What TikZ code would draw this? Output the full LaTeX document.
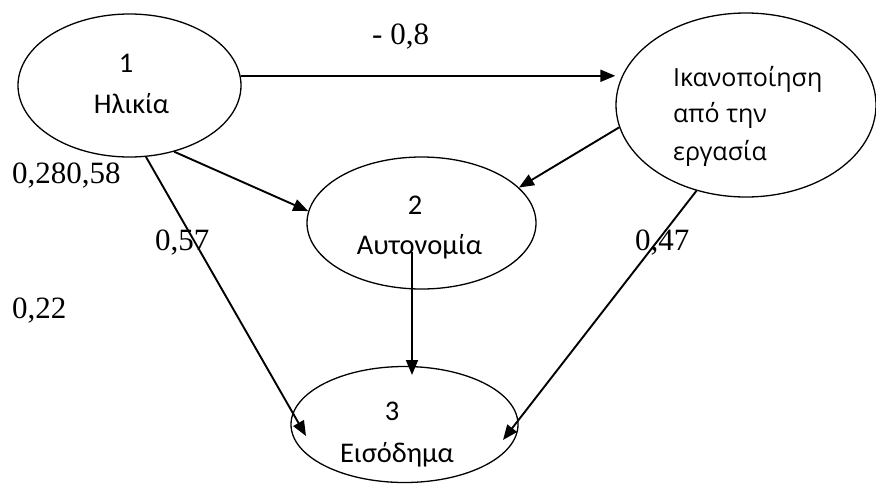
\documentclass[tikz,border=0pt]{standalone}
\usepackage{fontspec}
\setmainfont{Liberation Serif}
\newfontfamily\calfont{Carlito}
\newfontfamily\osfont{Open Sans}
\usetikzlibrary{shapes.geometric,arrows.meta}
\tikzset{
  ell/.style={draw, ellipse, inner sep=0pt, line width=1.3pt},
  arr/.style={line width=1.9pt, -{Triangle[length=15pt,width=12pt]}},
  sanslbl/.style={anchor=base, inner sep=0pt, font=\calfont\fontsize{28.5}{34}\selectfont},
  ikanlbl/.style={anchor=base west, inner sep=0pt, font=\osfont\fontsize{25}{30}\selectfont},
  numlbl/.style={anchor=base west, inner sep=0pt, font=\fontsize{31}{37}\selectfont},
}
\begin{document}
\begin{tikzpicture}[x=1pt,y=-1pt]
\useasboundingbox (0,0) rectangle (876,483);
% ellipses
\node[ell, minimum width=223pt, minimum height=143pt] (n1) at (129.5,85.5) {};
\node[ell, minimum width=260pt, minimum height=184pt] (nI) at (746,105) {};
\node[ell, minimum width=229pt, minimum height=132pt] (n2) at (421.5,223) {};
\node[ell, minimum width=227pt, minimum height=116pt] (n3) at (404.5,424.5) {};
% texts
\node[sanslbl] (t1a) at (126,72) {1};
\node[sanslbl] (t1b) at (131.5,113) {Ηλικία};
\node[sanslbl] (t2a) at (415,214) {2};
\node[sanslbl] (t2b) at (419.5,254) {Αυτονομία};
\node[sanslbl] (t3a) at (392,420) {3};
\node[sanslbl] (t3b) at (397,462) {Εισόδημα};
\node[ikanlbl] (tIa) at (673,86) {Ικανοποίηση};
\node[ikanlbl] (tIb) at (673,122) {από την};
\node[ikanlbl] (tIc) at (673,160) {εργασία};
% coefficients
\node[numlbl] (c1) at (372,44) {- 0,8};
\node[numlbl] (c2) at (12,183) {0,280,58};
\node[numlbl] (c3) at (155,250) {0,57};
\node[numlbl] (c4) at (12,318) {0,22};
\node[numlbl] (c5) at (635,250) {0,47};
% connector endpoints inside ellipses
\coordinate (t13) at (306,436);
\coordinate (s23) at (412,252);
\coordinate (t23) at (412,375);
\coordinate (tI3) at (503,440);
% connectors
\draw[arr] (n1.5) -- (n1.5 -| nI.west);
\draw[arr] (n1.-56) -- (n2.174);
\draw[arr] (nI.190) -- (n2.20);
\draw[arr] (n1.-77) -- (t13);
\draw[arr] (s23) -- (t23);
\draw[arr] (nI.240) -- (tI3);
\end{tikzpicture}
\end{document}
